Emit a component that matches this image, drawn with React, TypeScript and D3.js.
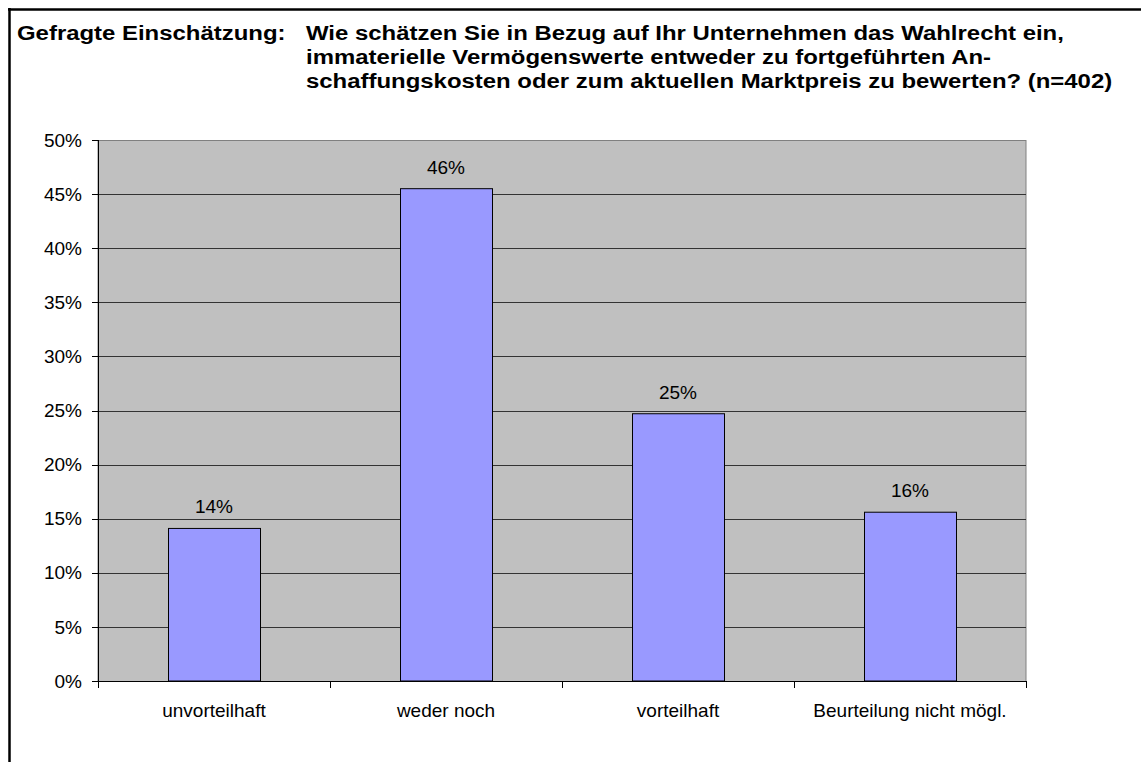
import React from 'react'
import * as d3 from 'd3'

const categories = ['unvorteilhaft', 'weder noch', 'vorteilhaft', 'Beurteilung nicht mögl.']
const values = [14.1, 45.5, 24.7, 15.6]
const valueLabels = ['14%', '46%', '25%', '16%']
const yTicks = [0, 5, 10, 15, 20, 25, 30, 35, 40, 45, 50]
const titleLead = 'Gefragte Einschätzung:'
const titleLines = [
  'Wie schätzen Sie in Bezug auf Ihr Unternehmen das Wahlrecht ein,',
  'immaterielle Vermögenswerte entweder zu fortgeführten An-',
  'schaffungskosten oder zum aktuellen Marktpreis zu bewerten? (n=402)',
]

const W = 1141
const H = 762
const plot = { left: 98, top: 140, right: 1026, bottom: 681 }

export default function App() {
  const x = d3.scaleBand<string>()
    .domain(categories)
    .range([plot.left, plot.right])
    .paddingInner(140 / 232)
    .paddingOuter(70 / 232)
  const y = d3.scaleLinear().domain([0, 50]).range([plot.bottom, plot.top])
  const step = x.step()
  const font = 'Arial, "Liberation Sans", sans-serif'
  const snap = (v: number) => Math.round(v) + 0.5
  // the old chart image is a bit stretched sideways
  const stretch = 1.14

  return (
    <svg width={W} height={H} style={{ position: 'absolute', left: 0, top: 0, background: '#fff' }}
      fontFamily={font}>
      {/* frame */}
      <line x1={8} y1={9.5} x2={W} y2={9.5} stroke="#000" strokeWidth={2.5} />
      <line x1={9.5} y1={8} x2={9.5} y2={H} stroke="#000" strokeWidth={2.5} />

      {/* title */}
      <text transform={`translate(17,40) scale(${stretch},1)`} fontSize={21} fontWeight="bold">{titleLead}</text>
      {titleLines.map((t, i) => (
        <text key={i} transform={`translate(306,${40 + i * 24}) scale(${stretch},1)`}
          fontSize={21} fontWeight="bold">{t}</text>
      ))}

      {/* plot area */}
      <rect x={plot.left} y={plot.top + 0.5} width={plot.right - plot.left} height={plot.bottom - plot.top}
        fill="#c0c0c0" stroke="#808080" strokeWidth={1} />
      {yTicks.filter(t => t > 0 && t < 50).map(t => (
        <line key={t} x1={plot.left} x2={plot.right} y1={snap(y(t))} y2={snap(y(t))}
          stroke="#333" strokeWidth={1} />
      ))}

      {/* bars */}
      {categories.map((c, i) => (
        <g key={c}>
          <rect x={(x(c) as number) + 0.5} y={y(values[i])} width={x.bandwidth()}
            height={plot.bottom - y(values[i])} fill="#9999ff" stroke="#000" strokeWidth={1} />
          <text x={(x(c) as number) + x.bandwidth() / 2} y={y(values[i]) - 15} fontSize={19}
            textAnchor="middle" fill="#000">{valueLabels[i]}</text>
        </g>
      ))}

      {/* y axis */}
      <line x1={plot.left + 0.5} x2={plot.left + 0.5} y1={plot.top} y2={plot.bottom} stroke="#000" />
      {yTicks.map(t => (
        <g key={t}>
          <line x1={plot.left - 6} x2={plot.left} y1={snap(y(t))} y2={snap(y(t))} stroke="#000" />
          <text x={82} y={y(t)} dy="0.35em" fontSize={19} textAnchor="end">{t}%</text>
        </g>
      ))}

      {/* x axis */}
      <line x1={plot.left} x2={plot.right} y1={plot.bottom + 0.5} y2={plot.bottom + 0.5} stroke="#000" />
      {d3.range(categories.length + 1).map(i => (
        <line key={i} x1={snap(plot.left + i * step)} x2={snap(plot.left + i * step)}
          y1={plot.bottom} y2={plot.bottom + 7} stroke="#000" />
      ))}
      {categories.map(c => (
        <text key={c} x={(x(c) as number) + x.bandwidth() / 2} y={717} fontSize={19} textAnchor="middle">{c}</text>
      ))}
    </svg>
  )
}
